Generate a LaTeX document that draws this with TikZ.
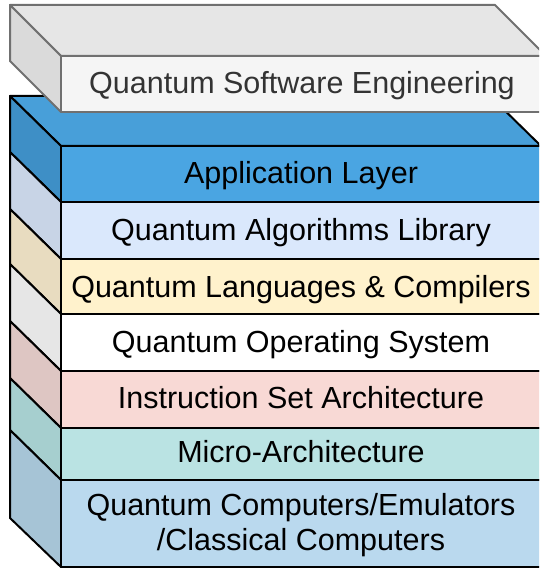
\documentclass[tikz,border=0pt]{standalone}
\usepackage{fontspec}
\setmainfont{Liberation Sans}
\usepackage{xcolor}
\definecolor{qseTop}{HTML}{E6E6E6}
\definecolor{qseSide}{HTML}{DADADA}
\definecolor{qseFront}{HTML}{F5F5F5}
\definecolor{qseLine}{HTML}{707070}
\definecolor{qseText}{HTML}{333333}
\definecolor{appTop}{HTML}{489FD9}
\definecolor{appSide}{HTML}{3E8FC6}
\definecolor{appFront}{HTML}{4AA5E2}
\definecolor{algSide}{HTML}{C8D4E6}
\definecolor{algFront}{HTML}{DAE8FC}
\definecolor{langSide}{HTML}{E8DCC0}
\definecolor{langFront}{HTML}{FFF2CC}
\definecolor{osSide}{HTML}{E6E6E6}
\definecolor{osFront}{HTML}{FFFFFF}
\definecolor{isaSide}{HTML}{DEC6C3}
\definecolor{isaFront}{HTML}{F8D9D5}
\definecolor{microSide}{HTML}{A6CFCF}
\definecolor{microFront}{HTML}{BAE3E3}
\definecolor{compSide}{HTML}{A6C4D6}
\definecolor{compFront}{HTML}{BAD9EE}
\usepackage{tikz}

\begin{document}
\begin{tikzpicture}[x=1pt, y=-1pt, every node/.style={inner sep=0pt, anchor=base, font=\fontsize{30.5}{35}\selectfont},
	layer/.style={draw=black, line width=2pt, line join=round},
	qse/.style={draw=qseLine, line width=2pt, line join=round}]
	\useasboundingbox (0,0) rectangle (539,569);
	\clip (0,0) rectangle (539,569);
	% stack of layers
	\filldraw[layer, fill=appTop] (61,146) -- (10,96) -- (490,96) -- (541,146) -- cycle;
	\filldraw[layer, fill=appSide] (61,146) -- (10,96) -- (10,152) -- (61,202) -- cycle;
	\filldraw[layer, fill=appFront] (61,146) rectangle (541,202);
	\filldraw[layer, fill=algSide] (61,202) -- (10,152) -- (10,209) -- (61,259) -- cycle;
	\filldraw[layer, fill=algFront] (61,202) rectangle (541,259);
	\filldraw[layer, fill=langSide] (61,259) -- (10,209) -- (10,264) -- (61,314) -- cycle;
	\filldraw[layer, fill=langFront] (61,259) rectangle (541,314);
	\filldraw[layer, fill=osSide] (61,314) -- (10,264) -- (10,321) -- (61,371) -- cycle;
	\filldraw[layer, fill=osFront] (61,314) rectangle (541,371);
	\filldraw[layer, fill=isaSide] (61,371) -- (10,321) -- (10,378) -- (61,428) -- cycle;
	\filldraw[layer, fill=isaFront] (61,371) rectangle (541,428);
	\filldraw[layer, fill=microSide] (61,428) -- (10,378) -- (10,430) -- (61,480) -- cycle;
	\filldraw[layer, fill=microFront] (61,428) rectangle (541,480);
	\filldraw[layer, fill=compSide] (61,480) -- (10,430) -- (10,518) -- (61,567) -- cycle;
	\filldraw[layer, fill=compFront] (61,480) rectangle (541,567);
	% software engineering slab on top
	\filldraw[qse, fill=qseTop] (61,56) -- (10,5) -- (495,5) -- (546,56) -- cycle;
	\filldraw[qse, fill=qseSide] (61,56) -- (10,5) -- (10,61) -- (61,112) -- cycle;
	\filldraw[qse, fill=qseFront] (61,56) rectangle (546,112);

	\node[text=qseText] (qse) at (302,93.5) {Quantum Software Engineering};
	\node (app) at (301,184) {Application Layer};
	\node (alg) at (301,240) {Quantum Algorithms Library};
	\node (lang) at (301,297) {Quantum Languages \& Compilers};
	\node (os) at (301,352) {Quantum Operating System};
	\node (isa) at (301,408) {Instruction Set Architecture};
	\node (micro) at (301,462) {Micro-Architecture};
	\node[align=center] (comp) at (301,550) {Quantum Computers/Emulators\\/Classical Computers};
\end{tikzpicture}
\end{document}
